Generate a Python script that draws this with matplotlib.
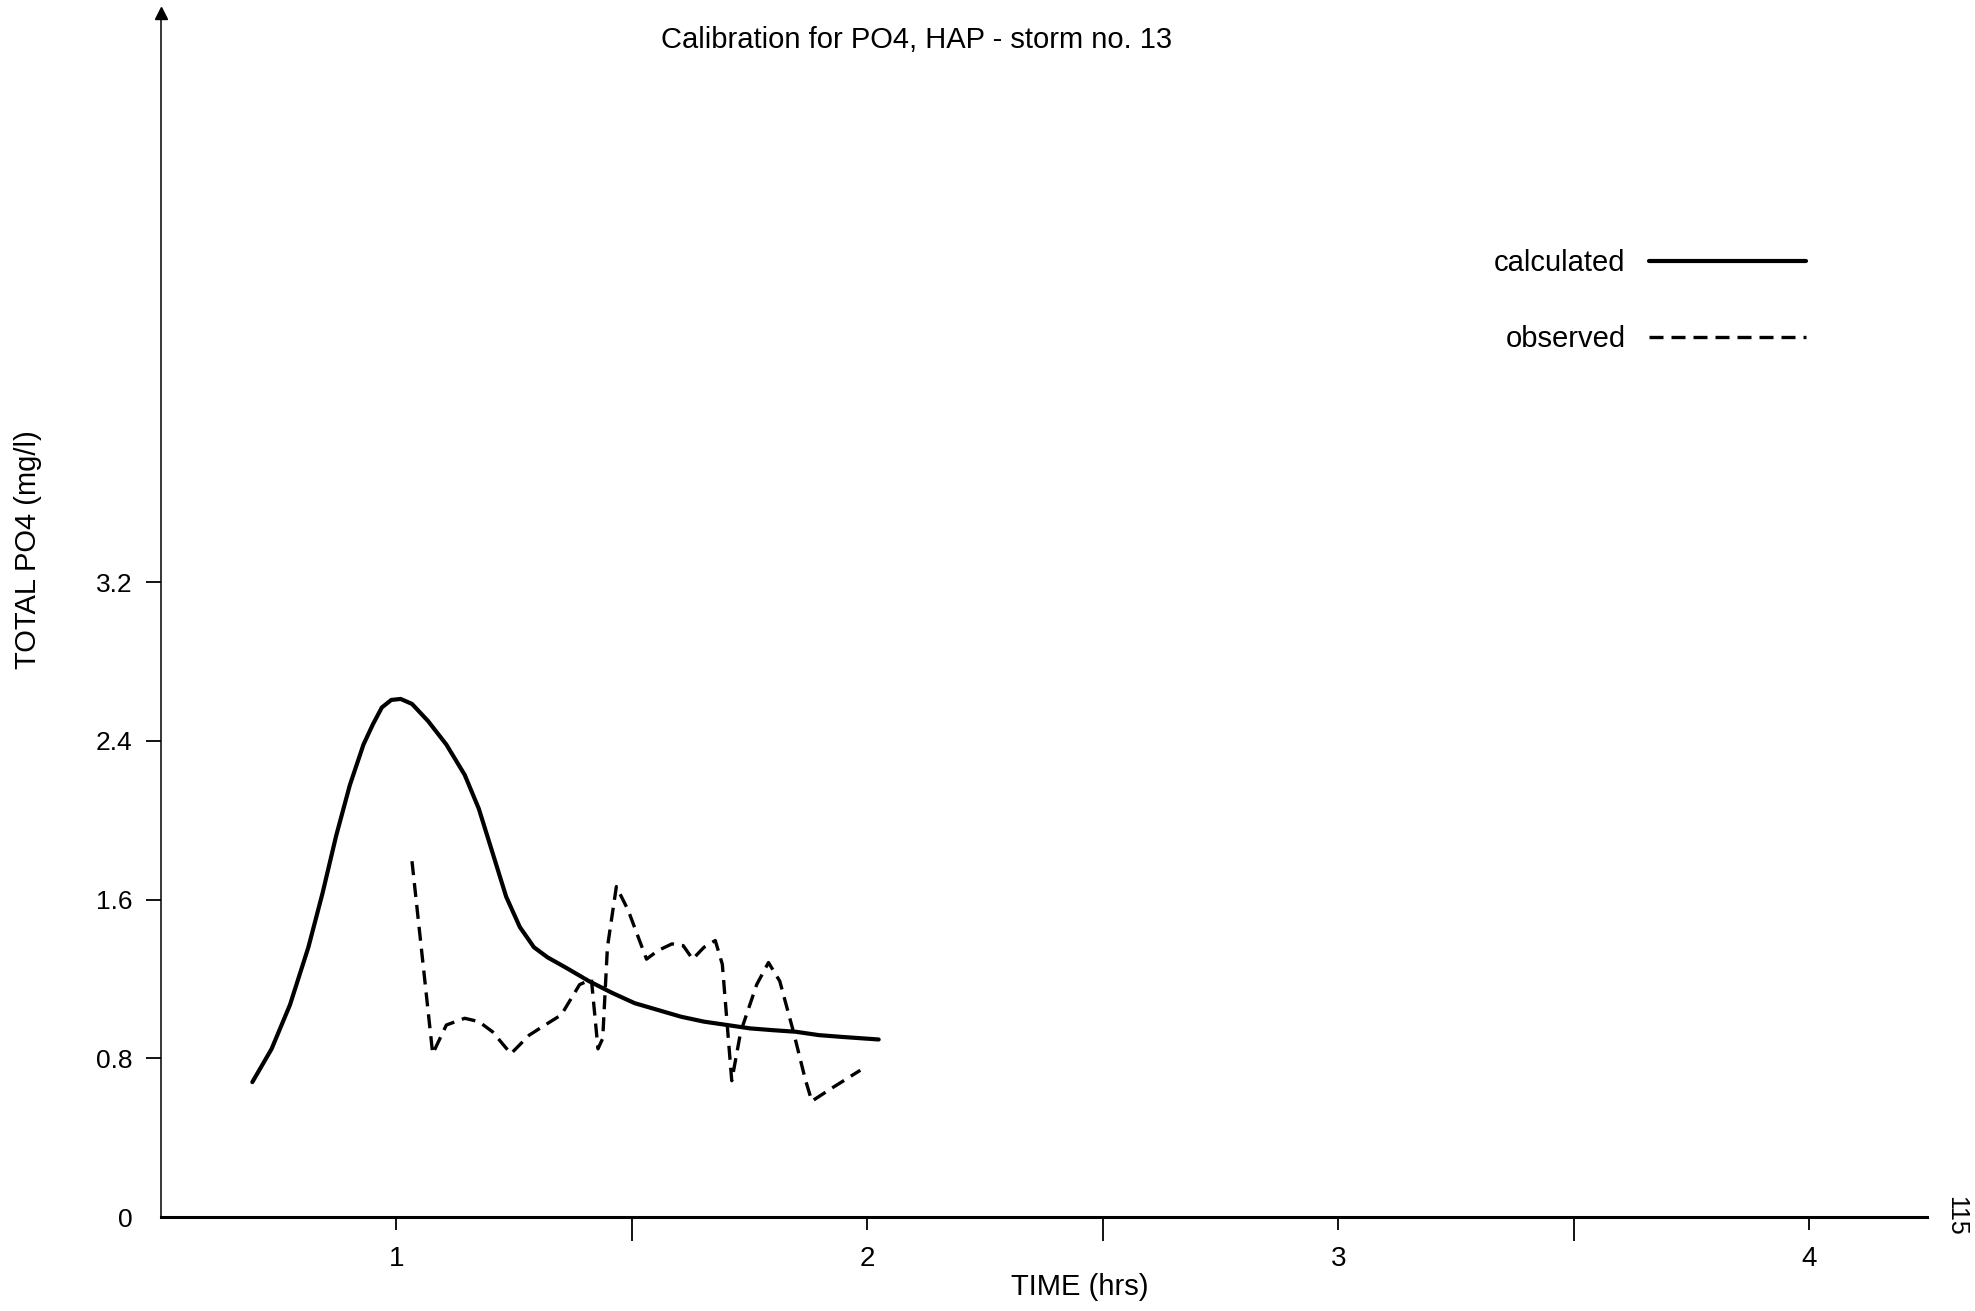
import matplotlib
matplotlib.use("Agg")
from matplotlib import pyplot as plt

plt.rcParams["font.family"] = ["Liberation Sans", "DejaVu Sans"]

# calculated PO4 curve (time in hrs, mg/l)
calc_time = [0.694, 0.735, 0.774, 0.813, 0.843, 0.872, 0.901, 0.930, 0.950, 0.969,
             0.989, 1.009, 1.033, 1.067, 1.106, 1.145, 1.175, 1.204, 1.233, 1.262,
             1.292, 1.321, 1.360, 1.409, 1.458, 1.506, 1.555, 1.604, 1.653, 1.702,
             1.751, 1.799, 1.848, 1.897, 1.946, 2.024]
calc_po4 = [0.680, 0.848, 1.070, 1.360, 1.632, 1.922, 2.177, 2.382, 2.484, 2.569,
            2.607, 2.612, 2.587, 2.501, 2.382, 2.229, 2.058, 1.837, 1.615, 1.462,
            1.360, 1.309, 1.257, 1.189, 1.130, 1.078, 1.044, 1.010, 0.985, 0.968,
            0.951, 0.942, 0.934, 0.917, 0.908, 0.895]

# observed PO4
obs_time = [1.033, 1.077, 1.106, 1.145, 1.175, 1.204, 1.243, 1.282, 1.321, 1.350,
            1.389, 1.414, 1.428, 1.438, 1.448, 1.467, 1.492, 1.531, 1.555, 1.585,
            1.609, 1.629, 1.653, 1.677, 1.692, 1.712, 1.731, 1.765, 1.790, 1.814,
            1.843, 1.868, 1.882, 1.926, 1.985]
obs_po4 = [1.794, 0.823, 0.968, 1.002, 0.985, 0.934, 0.823, 0.917, 0.976, 1.019,
           1.172, 1.198, 0.848, 0.900, 1.360, 1.666, 1.547, 1.300, 1.343, 1.377,
           1.368, 1.300, 1.360, 1.394, 1.274, 0.687, 0.934, 1.172, 1.283, 1.189,
           0.934, 0.695, 0.584, 0.652, 0.740]

x_major = [1, 2, 3, 4]
x_minor = [1.5, 2.5, 3.5]
y_ticks = [0, 0.8, 1.6, 2.4, 3.2]
y_labels = ["0", "0.8", "1.6", "2.4", "3.2"]

fig = plt.figure(figsize=(19.75, 13.11), dpi=100)
ax = fig.add_axes([0.0815, 0.0717, 0.8942, 0.9183])

ax.plot(calc_time, calc_po4, color="k", lw=3.0, solid_capstyle="round",
        solid_joinstyle="round", label="calculated")
ax.plot(obs_time, obs_po4, color="k", lw=2.4, dashes=(4.2, 2.4), label="observed")

ax.set_xlim(0.5, 4.25)
ax.set_ylim(0, 6.07)

for s in ("top", "right"):
    ax.spines[s].set_visible(False)
ax.spines["left"].set_linewidth(1.1)
ax.spines["bottom"].set_linewidth(2.2)
# arrow head on the y axis
ax.plot(0, 1, marker="^", ms=8, color="k", transform=ax.transAxes, clip_on=False)

ax.set_xticks(x_major)
ax.set_xticklabels([str(v) for v in x_major], fontsize=20)
ax.set_xticks(x_minor, minor=True)
ax.tick_params(axis="x", which="major", length=9, width=1.3, pad=12)
ax.tick_params(axis="x", which="minor", length=17, width=1.3)
ax.set_yticks(y_ticks)
ax.set_yticklabels(y_labels, fontsize=19)
ax.tick_params(axis="y", length=11, width=1.3, pad=9.5)
ax.yaxis.get_major_ticks()[0].tick1line.set_visible(False)

ax.set_xlabel("TIME (hrs)", fontsize=21, va="center")
ax.xaxis.set_label_coords(0.52, -0.058)
ax.set_ylabel("TOTAL PO4 (mg/l)", fontsize=21, va="center")
ax.yaxis.set_label_coords(-0.0753, 0.554)

ax.text(0.428, 0.978, "Calibration for PO4, HAP - storm no. 13", fontsize=21,
        ha="center", va="center", transform=ax.transAxes)

ax.legend(loc="upper left", bbox_to_anchor=(0.7548, 0.804), frameon=False,
          markerfirst=False, fontsize=21, handlelength=5.4, handletextpad=0.8,
          labelspacing=1.65, borderpad=0, borderaxespad=0)

fig.text(0.9904, 0.0725, "115", fontsize=18, rotation=270, ha="center", va="center")

plt.savefig("out.png")
